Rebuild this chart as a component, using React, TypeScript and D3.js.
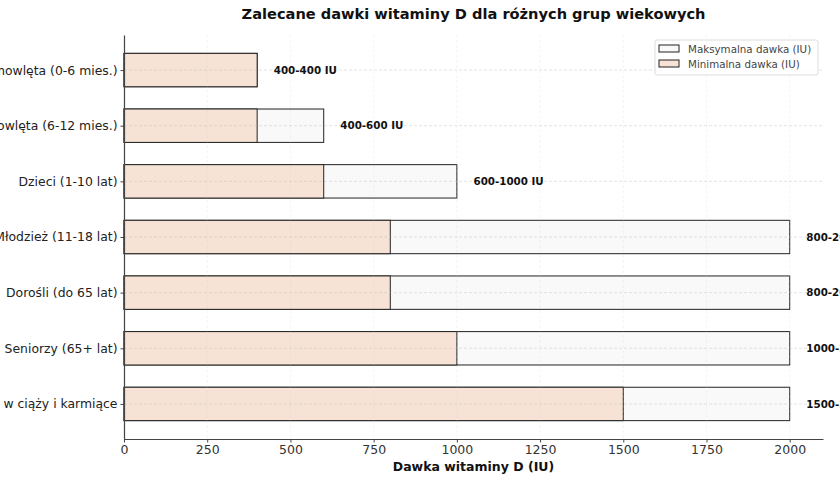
import * as d3 from "d3";
import { useEffect, useRef } from "react";

// dane
const groups = [
    "Niemowlęta (0-6 mies.)",
    "Niemowlęta (6-12 mies.)",
    "Dzieci (1-10 lat)",
    "Młodzież (11-18 lat)",
    "Dorośli (do 65 lat)",
    "Seniorzy (65+ lat)",
    "Kobiety w ciąży i karmiące",
];
const minDose = [400, 400, 600, 800, 800, 1000, 1500];
const maxDose = [400, 600, 1000, 2000, 2000, 2000, 2000];
const xTicks = [0, 250, 500, 750, 1000, 1250, 1500, 1750, 2000];

const W = 840;
const H = 480;
const FONT = "DejaVu Sans, sans-serif";

const App = () => {
    const svgRef = useRef(null);

    useEffect(() => {
        const svg = d3.select(svgRef.current);
        svg.selectAll("*").remove();

        const marginLeft = 124;
        const marginRight = 17;
        const marginTop = 35;
        const marginBottom = 41;

        const x = d3.scaleLinear().domain([0, 2100]).range([marginLeft, W - marginRight]);
        // pozycje słupków (0 = góra)
        const y = d3.scaleLinear().domain([-0.63, 6.63]).range([marginTop, H - marginBottom]);
        const bh = y(0.3) - y(-0.3);

        // słupki max
        svg.append("g")
            .selectAll("rect")
            .data(groups)
            .join("rect")
            .attr("x", x(0))
            .attr("y", (_, i) => y(i) - bh / 2)
            .attr("width", (_, i) => x(maxDose[i]) - x(0))
            .attr("height", bh)
            .attr("fill", "#f9f9f9")
            .attr("stroke", "#222")
            .attr("stroke-width", 1);

        // słupki min
        svg.append("g")
            .selectAll("rect")
            .data(groups)
            .join("rect")
            .attr("x", x(0))
            .attr("y", (_, i) => y(i) - bh / 2)
            .attr("width", (_, i) => x(minDose[i]) - x(0))
            .attr("height", bh)
            .attr("fill", "#f6e3d5")
            .attr("stroke", "#222")
            .attr("stroke-width", 1);

        // siatka
        svg.append("g")
            .attr("stroke", "#bbb")
            .attr("stroke-opacity", 0.5)
            .attr("stroke-dasharray", "3,2")
            .attr("stroke-width", 0.8)
            .selectAll("line")
            .data(groups)
            .join("line")
            .attr("x1", x(0))
            .attr("x2", W - marginRight)
            .attr("y1", (_, i) => y(i))
            .attr("y2", (_, i) => y(i));
        svg.append("g")
            .attr("stroke", "#ccc")
            .attr("stroke-opacity", 0.25)
            .attr("stroke-dasharray", "3,2")
            .attr("stroke-width", 0.8)
            .selectAll("line")
            .data(xTicks)
            .join("line")
            .attr("x1", d => x(d))
            .attr("x2", d => x(d))
            .attr("y1", marginTop)
            .attr("y2", H - marginBottom);

        // etykiety wartości
        svg.append("g")
            .selectAll("text")
            .data(groups)
            .join("text")
            .attr("x", (_, i) => x(maxDose[i] + 50))
            .attr("y", (_, i) => y(i))
            .attr("dy", "0.35em")
            .attr("font-family", FONT)
            .attr("font-size", 10.3)
            .attr("font-weight", "bold")
            .attr("fill", "#111")
            .text((_, i) => `${minDose[i]}-${maxDose[i]} IU`);

        // oś x
        svg.append("g")
            .attr("transform", `translate(0,${H - marginBottom})`)
            .call(d3.axisBottom(x).tickValues(xTicks).tickFormat(d3.format("d")).tickSize(3.5).tickPadding(3).tickSizeOuter(0))
            .call(g => g.select(".domain").attr("stroke", "#444").attr("stroke-width", 1.2))
            .call(g => g.selectAll(".tick line").attr("stroke", "#444"))
            .call(g => g.selectAll("text")
                .attr("font-family", FONT)
                .attr("font-size", 12.5)
                .attr("fill", "#333"));

        // oś y
        svg.append("g")
            .attr("transform", `translate(${marginLeft},0)`)
            .call(d3.axisLeft(y).tickValues(d3.range(groups.length)).tickFormat((_, i) => groups[i]).tickSize(3.5).tickPadding(3).tickSizeOuter(0))
            .call(g => g.select(".domain").attr("stroke", "#444").attr("stroke-width", 1.2))
            .call(g => g.selectAll(".tick line").attr("stroke", "#444"))
            .call(g => g.selectAll("text")
                .attr("font-family", FONT)
                .attr("font-size", 12.4)
                .attr("fill", "#222"));

        // tytuł i opis osi
        svg.append("text")
            .attr("x", (marginLeft + W - marginRight) / 2)
            .attr("y", 19)
            .attr("text-anchor", "middle")
            .attr("font-family", FONT)
            .attr("font-size", 14.6)
            .attr("font-weight", "bold")
            .attr("fill", "#111")
            .text("Zalecane dawki witaminy D dla różnych grup wiekowych");
        svg.append("text")
            .attr("x", (marginLeft + W - marginRight) / 2)
            .attr("y", 471)
            .attr("text-anchor", "middle")
            .attr("font-family", FONT)
            .attr("font-size", 12.5)
            .attr("font-weight", "bold")
            .attr("fill", "#111")
            .text("Dawka witaminy D (IU)");

        // legenda
        const lg = svg.append("g").attr("transform", "translate(655,40)");
        lg.append("rect")
            .attr("width", 163)
            .attr("height", 35)
            .attr("rx", 2)
            .attr("fill", "#fff")
            .attr("fill-opacity", 0.8)
            .attr("stroke", "#ddd");
        const items = [
            { label: "Maksymalna dawka (IU)", fill: "#f9f9f9" },
            { label: "Minimalna dawka (IU)", fill: "#f6e3d5" },
        ];
        items.forEach((it, i) => {
            lg.append("rect")
                .attr("x", 4)
                .attr("y", 5 + i * 15)
                .attr("width", 20)
                .attr("height", 7)
                .attr("fill", it.fill)
                .attr("stroke", "#222");
            lg.append("text")
                .attr("x", 33)
                .attr("y", 9 + i * 15)
                .attr("dy", "0.35em")
                .attr("font-family", FONT)
                .attr("font-size", 10.3)
                .attr("fill", "#444")
                .text(it.label);
        });
    }, []);

    return (
        <div style={{ position: "absolute", left: 0, top: 0 }}>
            <svg ref={svgRef} width={W} height={H} style={{ display: "block", background: "#fff" }}></svg>
        </div>
    );
};

export default App;
